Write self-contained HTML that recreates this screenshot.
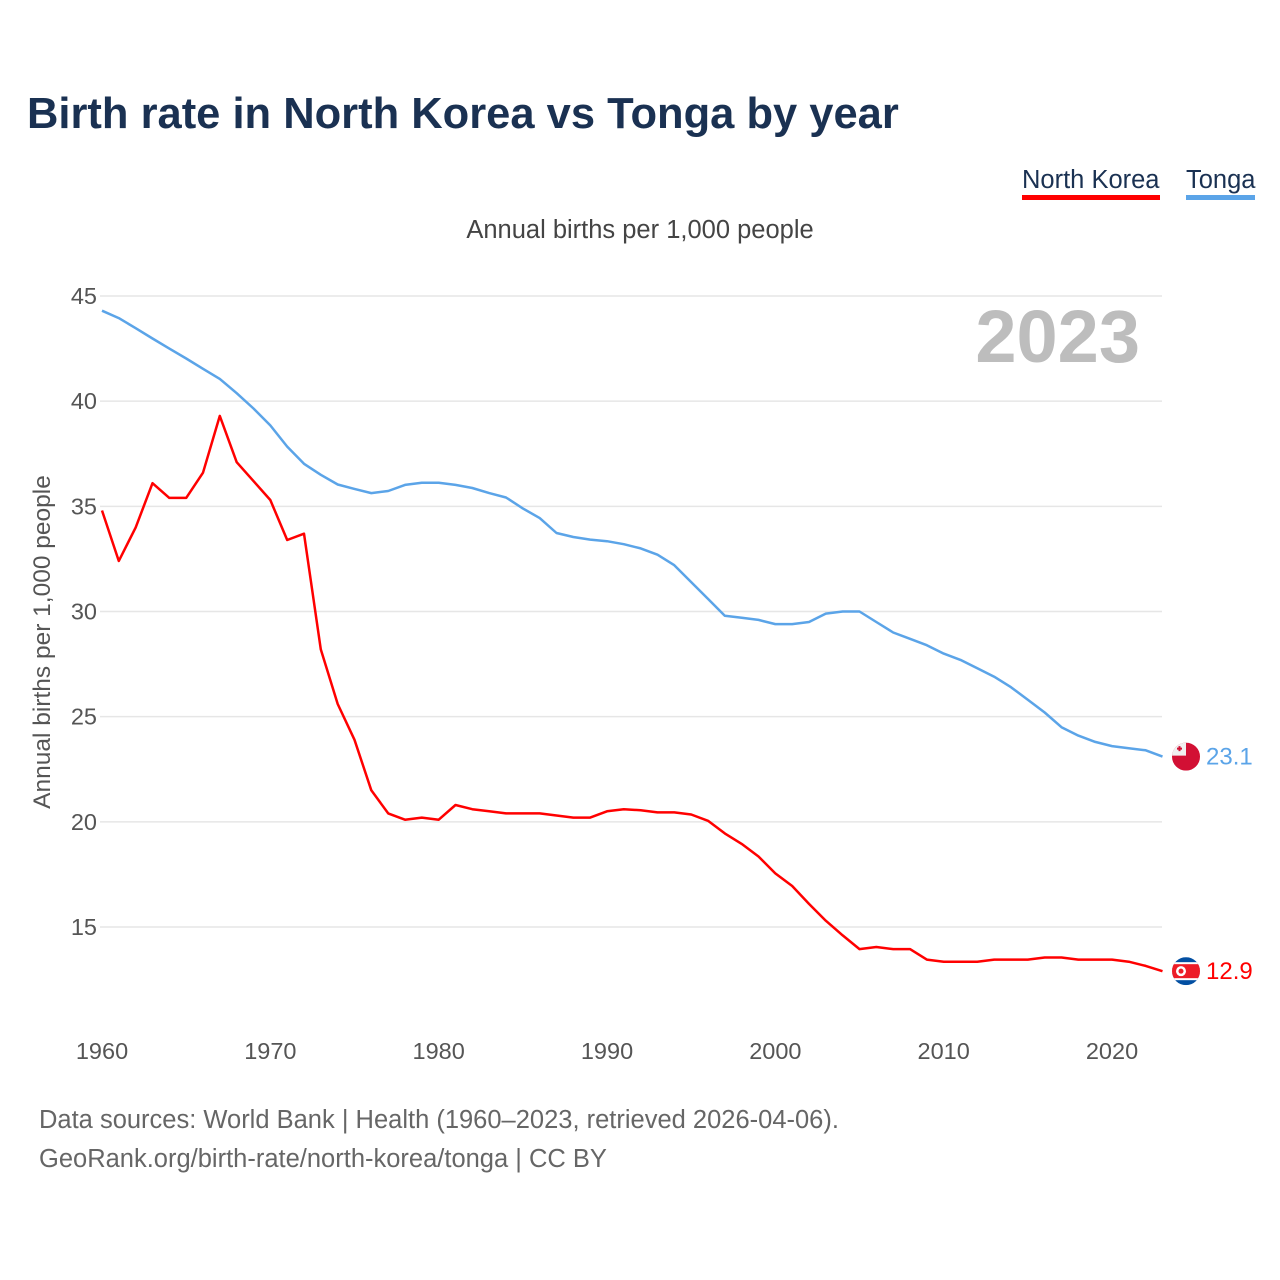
<!DOCTYPE html>
<html><head><meta charset="utf-8"><style>
body{margin:0;background:#fff;font-family:"Liberation Sans",sans-serif;}
#wrap{position:relative;width:1280px;height:1280px;overflow:hidden;}
.t{position:absolute;white-space:nowrap;}
</style></head><body>
<div id="wrap">
<div class="t" style="left:27px;top:90px;font-size:43.5px;font-weight:bold;color:#1a3152;">Birth rate in North Korea vs Tonga by year</div>
<div class="t" style="left:1022px;top:165px;font-size:25.5px;color:#1a3152;border-bottom:5px solid #ff0000;line-height:30px;">North Korea</div>
<div class="t" style="left:1186px;top:165px;font-size:25.5px;color:#1a3152;border-bottom:5px solid #5ba4e8;line-height:30px;">Tonga</div>
<div class="t" style="left:0;width:1280px;text-align:center;top:216px;font-size:25.5px;color:#444;">Annual births per 1,000 people</div>
<div class="t" style="left:39px;top:1106px;font-size:25.5px;color:#666;">Data sources: World Bank | Health (1960–2023, retrieved 2026-04-06).</div>
<div class="t" style="left:39px;top:1145px;font-size:25.5px;color:#666;">GeoRank.org/birth-rate/north-korea/tonga | CC BY</div>
<svg id="chart" width="1280" height="1280" style="position:absolute;left:0;top:0"></svg>
</div>
<script>
const years=[];for(let y=1960;y<=2023;y++)years.push(y);
const northKorea=[34.8,32.4,34.0,36.1,35.4,35.4,36.6,39.3,37.1,36.2,35.3,33.4,33.7,28.2,25.6,23.9,21.5,20.4,20.1,20.2,20.1,20.8,20.6,20.5,20.4,20.4,20.4,20.3,20.2,20.2,20.5,20.6,20.55,20.45,20.45,20.35,20.05,19.45,18.95,18.35,17.55,16.95,16.1,15.3,14.6,13.95,14.05,13.95,13.95,13.45,13.35,13.35,13.35,13.45,13.45,13.45,13.55,13.55,13.45,13.45,13.45,13.35,13.15,12.9];
const tonga=[44.3,43.95,43.47,42.98,42.5,42.03,41.54,41.06,40.38,39.65,38.85,37.84,37.02,36.5,36.04,35.83,35.63,35.73,36.02,36.12,36.12,36.02,35.87,35.63,35.42,34.9,34.44,33.73,33.54,33.42,33.34,33.2,33.0,32.7,32.2,31.4,30.6,29.8,29.7,29.6,29.4,29.4,29.5,29.9,30.0,30.0,29.5,29.0,28.7,28.4,28.0,27.7,27.3,26.9,26.4,25.8,25.2,24.5,24.1,23.8,23.6,23.5,23.4,23.1];
const yTicks=[15,20,25,30,35,40,45];
const xTicks=[1960,1970,1980,1990,2000,2010,2020];
const NS='http://www.w3.org/2000/svg';
const svg=document.getElementById('chart');
const X=y=>102+(y-1960)*(1010/60);
const Y=v=>296+(45-v)*(631/30);
function mk(tag,attrs,parent){const e=document.createElementNS(NS,tag);for(const k in attrs)e.setAttribute(k,attrs[k]);(parent||svg).appendChild(e);return e;}
yTicks.forEach(v=>{
  const l=mk('line',{x1:100,x2:1162,y1:Y(v),y2:Y(v),stroke:'#e6e6e6','stroke-width':1.5});
  
  
  const t=mk('text',{x:97,y:Y(v)+8,'text-anchor':'end','font-size':23.5,fill:'#555','font-family':'Liberation Sans, sans-serif'});
  t.textContent=v;
  
  
});
xTicks.forEach(v=>{
  const t=mk('text',{x:X(v),y:1059,'text-anchor':'middle','font-size':23.5,fill:'#555','font-family':'Liberation Sans, sans-serif'});
  t.textContent=v;
  
  
});
const yt=mk('text',{transform:'translate(50,642) rotate(-90)','text-anchor':'middle','font-size':24.5,fill:'#555','font-family':'Liberation Sans, sans-serif'});
yt.textContent='Annual births per 1,000 people';


const yr=mk('text',{x:1140,y:362,'text-anchor':'end','font-size':74,'font-weight':'bold',fill:'#bdbdbd','font-family':'Liberation Sans, sans-serif'});
yr.textContent='2023';


const defs=mk('defs',{});
function series(vals,color,name){
  const d=vals.map((v,i)=>(i?'L':'M')+X(years[i]).toFixed(1)+' '+Y(v).toFixed(1)).join(' ');
  const p=mk('path',{d:d,fill:'none',stroke:color,'stroke-width':2.5,'stroke-linejoin':'round'});
  
  
  const last=vals[vals.length-1];
  const t=mk('text',{x:1206,y:Y(last)+8,'font-size':24,fill:color,'font-family':'Liberation Sans, sans-serif'});
  t.textContent=last.toFixed(1);
  
  
  const cp=mk('clipPath',{id:'clip-'+name},defs);
  mk('circle',{cx:1186,cy:Y(last),r:14},cp);
  const g=mk('g',{'clip-path':'url(#clip-'+name+')'});
  
  
  return [g,Y(last)];
}
const [tg,tc]=series(tonga,'#5ba4e8','tonga');
mk('rect',{x:1172,y:tc-14,width:28,height:28,fill:'#d21034'},tg);
mk('rect',{x:1172,y:tc-14,width:14,height:13,fill:'#f0f0f0'},tg);
mk('rect',{x:1177,y:tc-9,width:5,height:2,fill:'#d21034'},tg);
mk('rect',{x:1178.5,y:tc-10.5,width:2,height:5,fill:'#d21034'},tg);
const [ng,nc]=series(northKorea,'#ff0000','north-korea');
mk('rect',{x:1172,y:nc-14,width:28,height:28,fill:'#024fa2'},ng);
mk('rect',{x:1172,y:nc-9,width:28,height:18,fill:'#ffffff'},ng);
mk('rect',{x:1172,y:nc-7,width:28,height:14,fill:'#ed1c27'},ng);
mk('circle',{cx:1181,cy:nc,r:5,fill:'#ffffff'},ng);
mk('circle',{cx:1181,cy:nc,r:2.5,fill:'#ed1c27'},ng);
</script>
</body></html>
